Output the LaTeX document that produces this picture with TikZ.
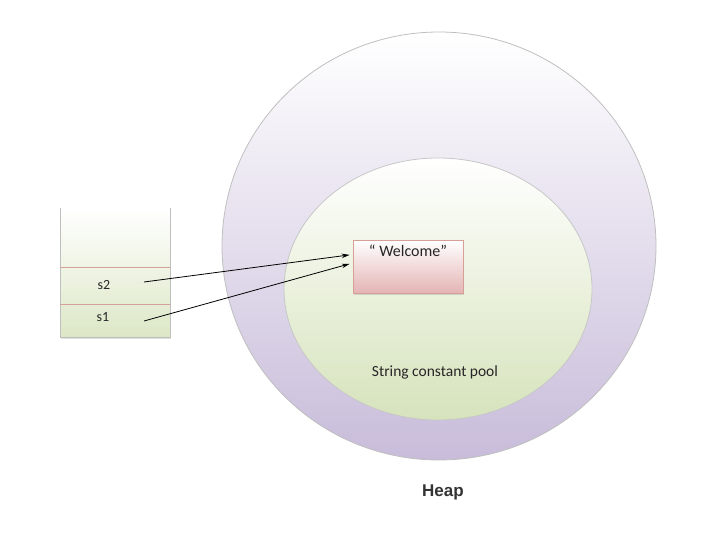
\documentclass[tikz,border=0pt]{standalone}
\usepackage{fontspec}
\setmainfont{Carlito}
\newfontfamily\heapfont{Liberation Sans}
\usetikzlibrary{arrows.meta,shadows,shapes.geometric}
\definecolor{heapcol}{RGB}{200,188,218}
\definecolor{poolcol}{RGB}{214,227,188}
\definecolor{strcol}{RGB}{228,180,180}
\definecolor{sepcol}{RGB}{215,160,150}
\begin{document}
\begin{tikzpicture}[x=1pt,y=-1pt]
    \tikzstyle{heap}=[ellipse,draw=black!25,line width=0.8pt,top color=white,bottom color=heapcol,minimum width=434,minimum height=428,inner sep=0]
    \tikzstyle{pool}=[ellipse,draw=black!22,line width=0.8pt,top color=white,bottom color=poolcol,minimum width=308,minimum height=262,inner sep=0]
    \tikzstyle{strbox}=[draw=sepcol,line width=0.8pt,top color=white,bottom color=strcol,minimum width=110,minimum height=53,inner sep=0,
      drop shadow={shadow xshift=1pt,shadow yshift=-1.5pt,opacity=0.25}]
    \tikzstyle{cell}=[font=\fontsize{14}{16}\selectfont,text=black!85]
    \tikzstyle{ref}=[-{Stealth[length=8pt,width=4.5pt]},line width=0.8pt,shorten >=3pt]
    \useasboundingbox (0,0) rectangle (720,540);
    % heap and pool
    \node[heap] (heap) at (439,246) {};
    \node[pool] (pool) at (438,289) {};
    \node[font=\fontsize{15.5}{18}\selectfont,text=black!85] (pooltxt) at (435,372) {String constant pool};
    \node[font=\heapfont\bfseries\fontsize{17}{19}\selectfont,text=black!80] (heaptxt) at (443,492) {Heap};
    % string object
    \node[strbox,label={[anchor=north,yshift=-2pt,font=\fontsize{16}{18}\selectfont,text=black!85]north:“ Welcome”}] (welcome) at (408,266.5) {};
    % stack
    \fill[top color=white,bottom color=poolcol!85,drop shadow={shadow xshift=1pt,shadow yshift=-1.5pt,opacity=0.25}] (60,208) rectangle (170,337);
    \draw[black!25,line width=0.8pt] (60,208) -- (60,337) -- (170,337) -- (170,208);
    \draw[sepcol,line width=0.8pt] (60,267) -- (170,267) (60,304) -- (170,304);
    \node[cell] (s2) at (104,285) {s2};
    \node[cell] (s1) at (103,317) {s1};
    \coordinate (s2end) at (144,282);
    \coordinate (s1end) at (144,321);
    % references
    \draw[ref] (s2end) -- ([yshift=12pt]welcome.west);
    \draw[ref] (s1end) -- ([yshift=3.5pt]welcome.west);
  \end{tikzpicture}
\end{document}
